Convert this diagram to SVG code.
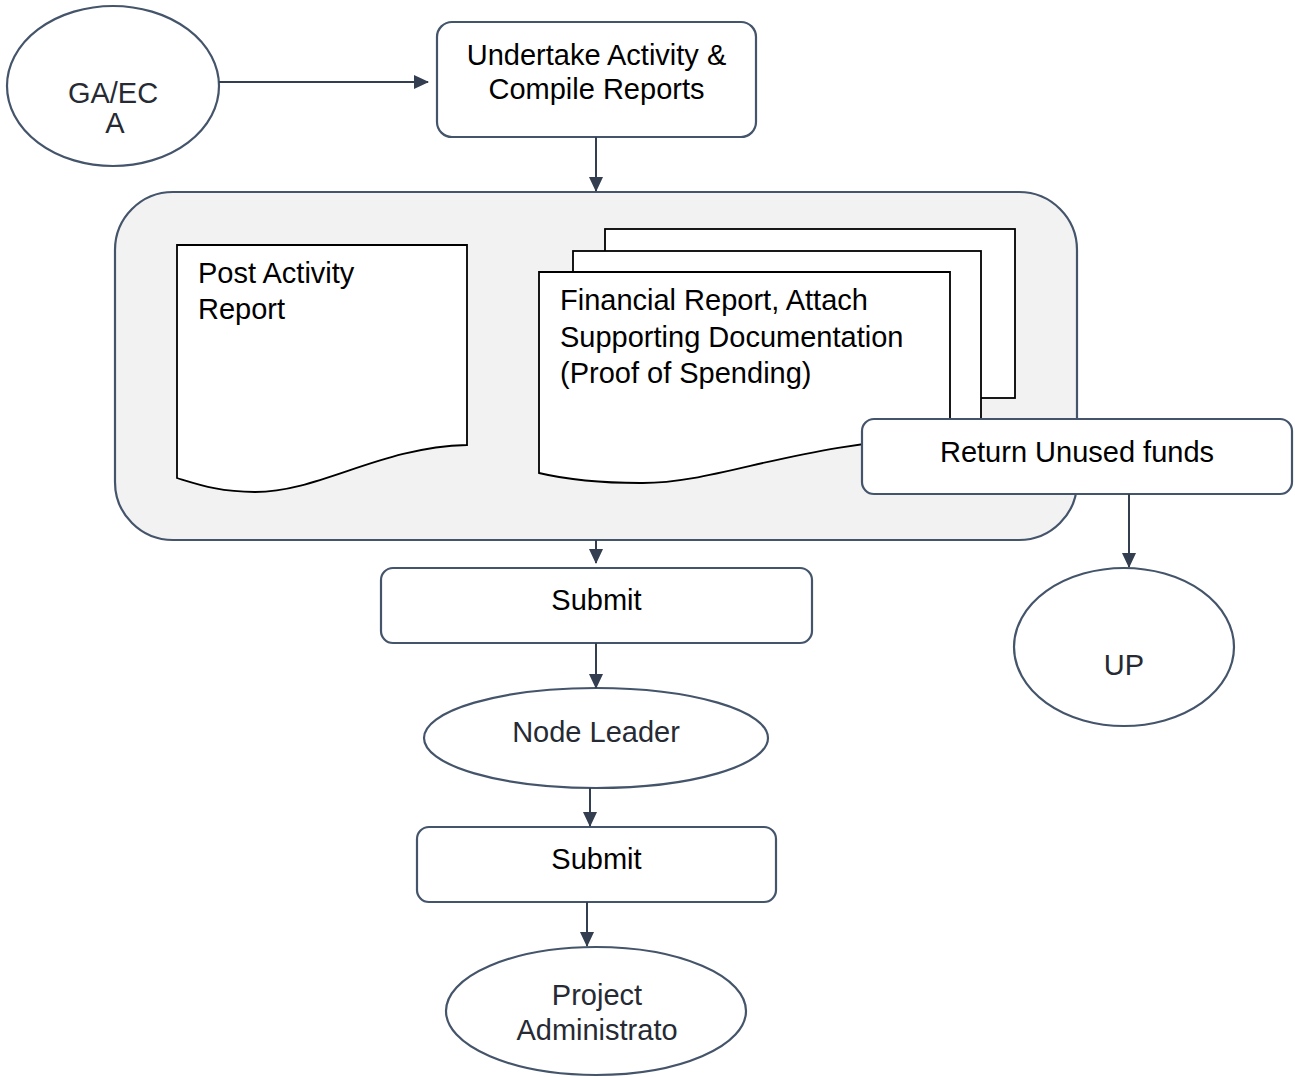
<svg xmlns="http://www.w3.org/2000/svg" width="1295" height="1077" viewBox="0 0 1295 1077">
<style>
.box{fill:#fff;stroke:#44546a;stroke-width:2.2}
.ell{fill:#fff;stroke:#44546a;stroke-width:2.2}
.doc{fill:#fff;stroke:#000;stroke-width:1.8}
.t{font-family:"Liberation Sans",Arial,sans-serif;font-size:29px;fill:#000}
.te{font-family:"Liberation Sans",Arial,sans-serif;font-size:29px;fill:#262a33}
.c{text-anchor:middle}
.conn{stroke:#333f50;stroke-width:2;fill:none}
</style>
<defs>
<marker id="ah" markerWidth="16" markerHeight="16" refX="14" refY="7" orient="auto" markerUnits="userSpaceOnUse">
<path d="M0,0 L15,7 L0,14 Z" fill="#333f50"/>
</marker>
</defs>
<rect width="1295" height="1077" fill="#fff"/>
<g id="container">
<rect x="115" y="192" width="962" height="348" rx="58" fill="#f2f2f2" stroke="#44546a" stroke-width="2.2"/>
</g>
<g id="post-activity-report">
<path class="doc" d="M177,245 H467 V445 C380,447 320,492 255,492 C220,492 200,485 177,478 Z"/>
<text class="t" x="198" y="283">Post Activity</text>
<text class="t" x="198" y="319">Report</text>
</g>
<g id="financial-report">
<rect class="doc" x="605" y="229" width="410" height="169"/>
<rect class="doc" x="573" y="251" width="408" height="190"/>
<path class="doc" d="M539,272 H950 V438 C800,440 720,484 640,483 C590,483 560,478 539,473 Z"/>
<text class="t" x="560" y="310">Financial Report, Attach</text>
<text class="t" x="560" y="347">Supporting Documentation</text>
<text class="t" x="560" y="383">(Proof of Spending)</text>
</g>
<g id="return-unused-funds">
<rect class="box" x="862" y="419" width="430" height="75" rx="12"/>
<text class="t c" x="1077" y="462">Return Unused funds</text>
</g>
<g id="gaeca">
<ellipse class="ell" cx="113" cy="86" rx="106" ry="80"/>
<text class="te c" x="113" y="103">GA/EC</text>
<text class="te c" x="115" y="133">A</text>
</g>
<g id="undertake">
<rect class="box" x="437" y="22" width="319" height="115" rx="15"/>
<text class="t c" x="596.5" y="65">Undertake Activity &amp;</text>
<text class="t c" x="596.5" y="99">Compile Reports</text>
</g>
<g id="submit1">
<rect class="box" x="381" y="568" width="431" height="75" rx="12"/>
<text class="t c" x="596.5" y="610">Submit</text>
</g>
<g id="node-leader">
<ellipse class="ell" cx="596" cy="738" rx="172" ry="50"/>
<text class="te c" x="596" y="742">Node Leader</text>
</g>
<g id="submit2">
<rect class="box" x="417" y="827" width="359" height="75" rx="12"/>
<text class="t c" x="596.5" y="869">Submit</text>
</g>
<g id="project-administrator">
<ellipse class="ell" cx="596" cy="1011" rx="150" ry="64"/>
<text class="te c" x="597" y="1005">Project</text>
<text class="te c" x="597" y="1040">Administrato</text>
</g>
<g id="up">
<ellipse class="ell" cx="1124" cy="647" rx="110" ry="79"/>
<text class="te c" x="1124" y="675">UP</text>
</g>
<g id="connectors">
<line class="conn" x1="219" y1="82" x2="428" y2="82" marker-end="url(#ah)"/>
<line class="conn" x1="596" y1="137" x2="596" y2="191" marker-end="url(#ah)"/>
<line class="conn" x1="596" y1="540" x2="596" y2="563" marker-end="url(#ah)"/>
<line class="conn" x1="596" y1="643" x2="596" y2="688" marker-end="url(#ah)"/>
<line class="conn" x1="590" y1="788" x2="590" y2="826" marker-end="url(#ah)"/>
<line class="conn" x1="587" y1="902" x2="587" y2="946" marker-end="url(#ah)"/>
<line class="conn" x1="1129" y1="494" x2="1129" y2="567" marker-end="url(#ah)"/>
</g>
</svg>
